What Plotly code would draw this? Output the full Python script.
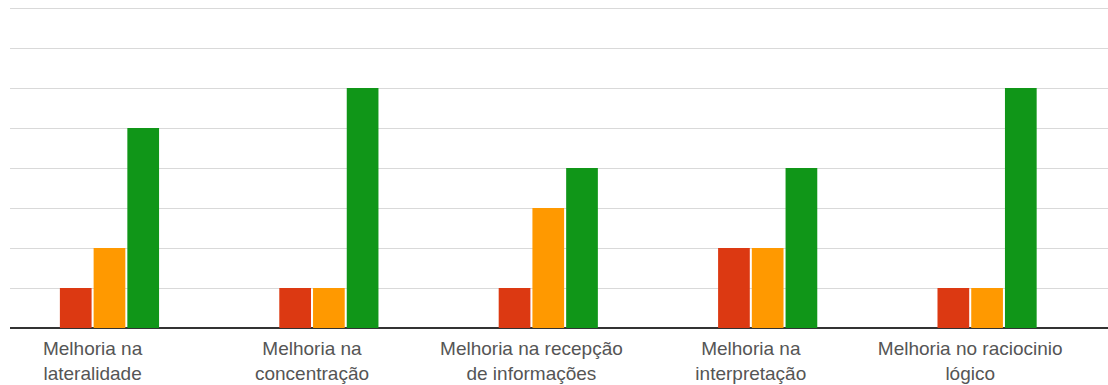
import plotly.graph_objects as go

categories = [
    "Melhoria na<br>lateralidade",
    "Melhoria na<br>concentração",
    "Melhoria na recepção<br>de informações",
    "Melhoria na<br>interpretação",
    "Melhoria no raciocinio<br>lógico",
]
series_names = ["Nenhuma", "Pouca", "Média", "Muita"]
series_colors = ["#3366cc", "#dc3912", "#ff9900", "#109618"]
values_nenhuma = [0, 0, 0, 0, 0]
values_pouca = [1, 1, 1, 2, 1]
values_media = [2, 1, 3, 2, 1]
values_muita = [5, 6, 4, 4, 6]
all_values = [values_nenhuma, values_pouca, values_media, values_muita]

fig = go.Figure()
for name, color, vals in zip(series_names, series_colors, all_values):
    fig.add_trace(go.Bar(x=list(range(len(categories))), y=vals, name=name,
                         marker=dict(color=color, line=dict(width=0))))

fig.update_layout(
    width=1108, height=385,
    margin=dict(l=10, r=0, t=0, b=57),
    paper_bgcolor="white", plot_bgcolor="white",
    barmode="group", bargap=0.385, bargroupgap=0.06,
    showlegend=False,
    font=dict(family="Liberation Sans, Arial, sans-serif", size=19, color="#555555"),
)
fig.update_xaxes(
    tickmode="array", tickvals=list(range(len(categories))), ticktext=categories,
    range=[-0.3765, 4.628], showgrid=False, zeroline=False,
    showline=False, ticks="", tickfont=dict(size=19, color="#555555"),
    ticklabelstandoff=7,
)
fig.update_yaxes(
    range=[0, 8.2], dtick=1, showticklabels=False, showgrid=True,
    gridcolor="#d9d9d9", gridwidth=1.3, zeroline=True, zerolinecolor="#333333",
    zerolinewidth=1.5,
)
fig.write_html("out.html")
